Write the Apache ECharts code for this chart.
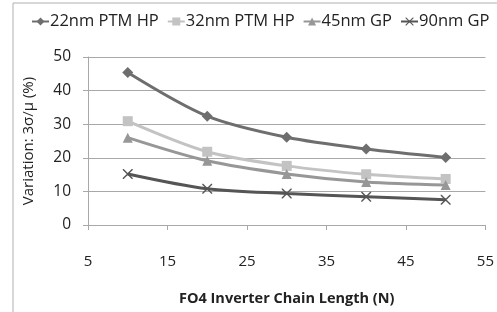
<!DOCTYPE html>
<html>
<head>
<meta charset="utf-8">
<script src="https://cdn.jsdelivr.net/npm/echarts@6/dist/echarts.min.js"></script>
<style>
html, body { margin: 0; padding: 0; background: #fff; }
#main { width: 497px; height: 312px; }
</style>
</head>
<body>
<div id="main"></div>
<script>
var chainLength = [10, 20, 30, 40, 50];
var nm22 = [45.4, 32.4, 26.1, 22.6, 20.1];
var nm32 = [30.9, 21.8, 17.6, 15.1, 13.7];
var nm45 = [26.0, 19.1, 15.2, 12.8, 11.9];
var nm90 = [15.2, 10.8, 9.4, 8.4, 7.5];
var seriesNames = ['22nm PTM HP', '32nm PTM HP', '45nm GP', '90nm GP'];

function pairs(ys) {
    var out = [];
    for (var i = 0; i < chainLength.length; i++) {
        out.push([chainLength[i], ys[i]]);
    }
    return out;
}

var crossPath = 'path://M0,0 L1,0 L10,9 L10,10 L9,10 L0,1 Z M9,0 L10,0 L10,1 L1,10 L0,10 L0,9 Z';

var myChart = echarts.init(document.getElementById('main'));
var font = 'Open Sans';
var option = {
    animation: false,
    graphic: [
        { type: 'line', shape: { x1: 13, y1: 3, x2: 497, y2: 3 }, style: { stroke: '#b0b0b0', lineWidth: 1 } },
        { type: 'line', shape: { x1: 13, y1: 3, x2: 13, y2: 312 }, style: { stroke: '#b0b0b0', lineWidth: 1 } }
    ],
    legend: {
        top: 8,
        left: 26,
        itemWidth: 17,
        itemHeight: 10,
        itemGap: 8,
        textStyle: { fontFamily: font, fontSize: 16.5, color: '#222', padding: [0, 0, 0, -4] },
        data: seriesNames
    },
    grid: { left: 88, right: 11, top: 57, bottom: 87 },
    xAxis: {
        type: 'value',
        min: 5,
        max: 55,
        interval: 10,
        name: 'FO4 Inverter Chain Length (N)',
        nameLocation: 'middle',
        nameGap: 66,
        nameTextStyle: { fontFamily: font, fontSize: 14.5, fontWeight: 'bold', color: '#222' },
        axisLine: { lineStyle: { color: '#a8a8a8' } },
        axisTick: { show: true, length: 5, lineStyle: { color: '#a8a8a8' } },
        axisLabel: { fontFamily: font, fontSize: 15, color: '#222', margin: 29 },
        splitLine: { show: false }
    },
    yAxis: {
        type: 'value',
        min: 0,
        max: 50,
        interval: 10,
        name: 'Variation: 3σ/μ (%)',
        nameLocation: 'middle',
        nameGap: 52,
        nameTextStyle: { fontFamily: font, fontSize: 15, color: '#222' },
        axisLine: { show: true, lineStyle: { color: '#a8a8a8' } },
        axisTick: { show: true, length: 5, lineStyle: { color: '#a8a8a8' } },
        axisLabel: { fontFamily: font, fontSize: 15.5, color: '#222', margin: 17 },
        splitLine: { lineStyle: { color: '#a8a8a8' } }
    },
    series: [
        {
            name: seriesNames[0], type: 'line', smooth: 0.3,
            symbol: 'diamond', symbolSize: 11,
            lineStyle: { width: 3, color: '#6e6e6e' },
            itemStyle: { color: '#6e6e6e' },
            data: pairs(nm22)
        },
        {
            name: seriesNames[1], type: 'line', smooth: 0.3,
            symbol: 'rect', symbolSize: 10,
            lineStyle: { width: 3, color: '#c3c3c3' },
            itemStyle: { color: '#c3c3c3' },
            data: pairs(nm32)
        },
        {
            name: seriesNames[2], type: 'line', smooth: 0.3,
            symbol: 'triangle', symbolSize: 10,
            lineStyle: { width: 3, color: '#979797' },
            itemStyle: { color: '#979797' },
            data: pairs(nm45)
        },
        {
            name: seriesNames[3], type: 'line', smooth: 0.3,
            symbol: crossPath, symbolSize: 10,
            lineStyle: { width: 3, color: '#555555' },
            itemStyle: { color: '#555555' },
            data: pairs(nm90)
        }
    ]
};
myChart.setOption(option);
</script>
</body>
</html>
